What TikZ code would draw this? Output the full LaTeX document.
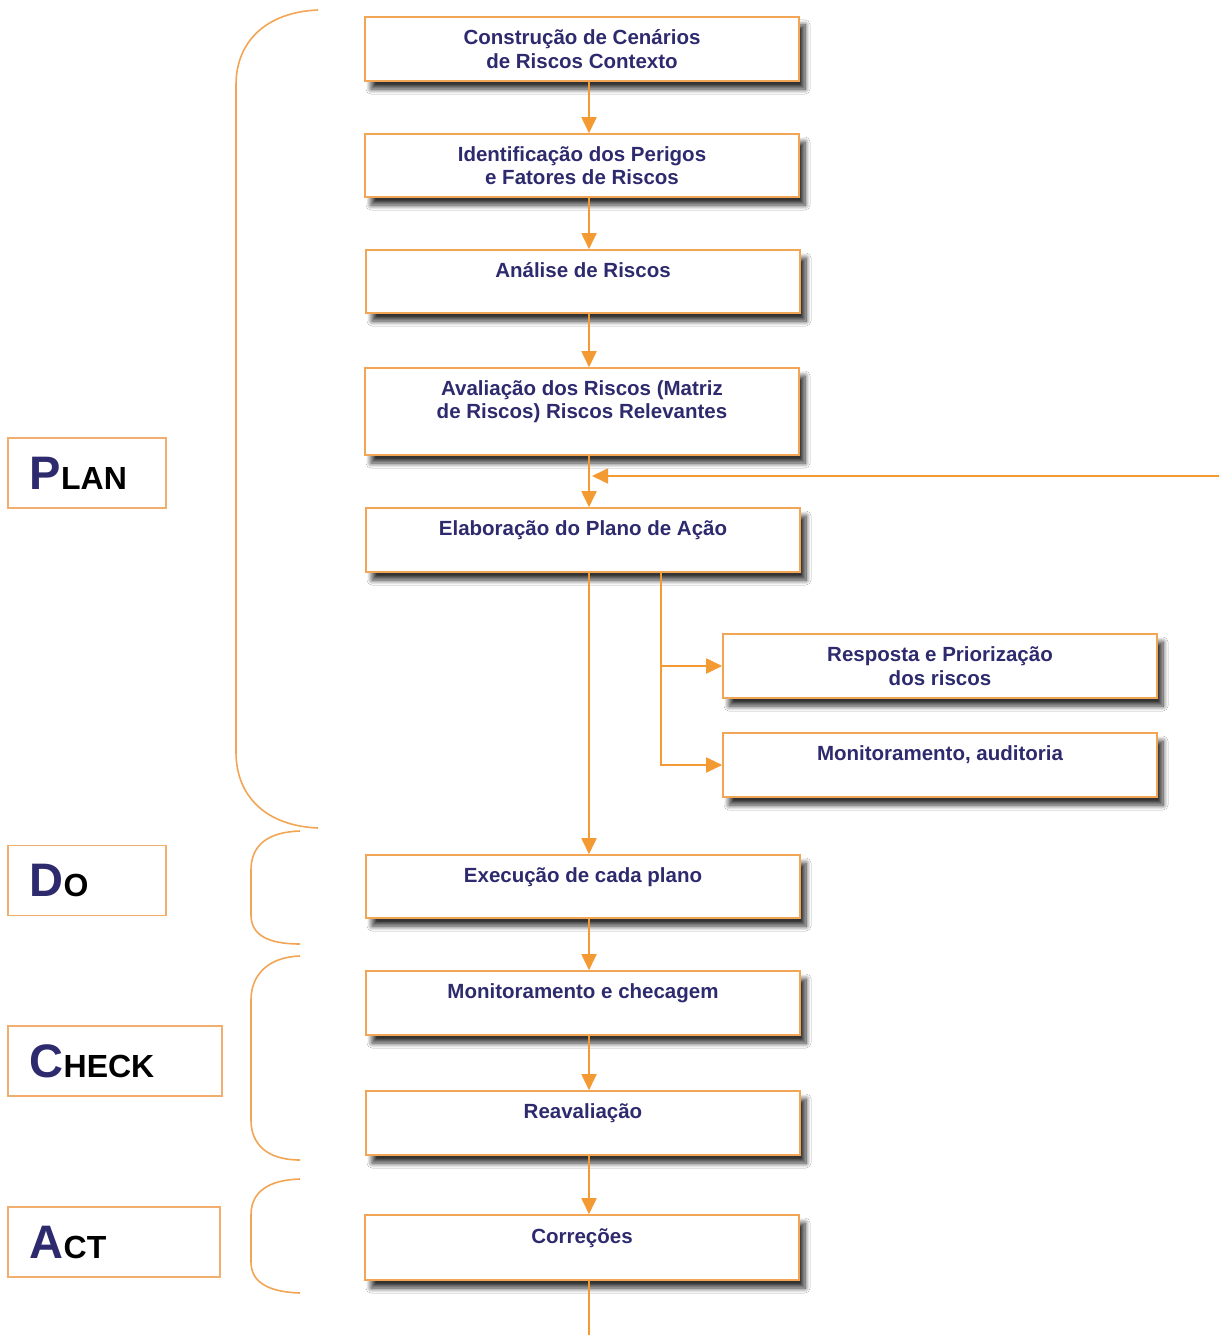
\documentclass[tikz,border=0pt]{standalone}
\usepackage{fontspec}
\setmainfont{Liberation Sans}
\usetikzlibrary{arrows.meta,shadows,shadows.blur}
\definecolor{boxline}{HTML}{F2A655}
\definecolor{arrcol}{HTML}{F39A33}
\definecolor{navy}{HTML}{2D2A6E}
\definecolor{labline}{HTML}{F2AE6E}
\tikzset{
  stepbox/.style={draw=boxline, line width=1.6pt, fill=white, rectangle,
    minimum width=434pt, minimum height=64pt, inner sep=0pt, align=center,
    text=navy, font=\fontsize{20.5}{23.5}\selectfont\bfseries,
    blur shadow={shadow xshift=6pt, shadow yshift=-8pt, shadow blur radius=5pt, shadow opacity=80, shadow blur steps=10}},
  labbox/.style={draw=labline, line width=1.5pt, fill=white, rectangle, anchor=west,
    minimum height=70pt, inner xsep=22pt, inner ysep=0pt, align=left},
  arr/.style={draw=arrcol, line width=1.8pt, -{Triangle[length=16pt,width=15pt]}},
  conn/.style={draw=arrcol, line width=1.8pt},
  brace/.style={draw=boxline, line width=1.6pt},
}
\newcommand{\pdcalab}[2]{{\fontsize{47}{47}\selectfont\bfseries\color{navy}#1}{\fontsize{32}{32}\selectfont\bfseries #2}}
\begin{document}
\begin{tikzpicture}[x=1pt,y=-1pt]
\useasboundingbox[fill=white] (0,0) rectangle (1219,1335);
% main boxes
\node[stepbox] (b1) at (582,49) {Construção de Cenários\\de Riscos Contexto};
\node[stepbox, minimum height=63pt] (b2) at (582,165.5) {Identificação dos Perigos\\e Fatores de Riscos};
\node[stepbox, minimum height=63pt] (b3) at (583,281.5) {Análise de Riscos\\\mbox{}};
\node[stepbox, minimum height=87pt] (b4) at (582,411.5) {Avaliação dos Riscos (Matriz\\de Riscos) Riscos Relevantes\\\mbox{}};
\node[stepbox] (b5) at (583,540) {Elaboração do Plano de Ação\\\mbox{}};
\node[stepbox] (r1) at (940,666) {Resposta e Priorização\\dos riscos};
\node[stepbox] (r2) at (940,765) {Monitoramento, auditoria\\\mbox{}};
\node[stepbox, minimum height=63pt] (b6) at (583,886.5) {Execução de cada plano\\\mbox{}};
\node[stepbox] (b7) at (583,1003) {Monitoramento e checagem\\\mbox{}};
\node[stepbox] (b8) at (583,1123) {Reavaliação\\\mbox{}};
\node[stepbox, minimum height=65pt] (b9) at (582,1247.5) {Correções\\\mbox{}};
% label boxes
\node[labbox, text width=114pt] (plan) at (7,473) {\pdcalab{P}{LAN}};
\node[labbox, text width=114pt] (do) at (7,880.5) {\pdcalab{D}{O}};
\node[labbox, text width=170pt] (check) at (7,1061) {\pdcalab{C}{HECK}};
\node[labbox, text width=168pt] (act) at (7,1242) {\pdcalab{A}{CT}};
% connector helpers
\coordinate (col) at (589,0);
\coordinate (br) at (661,0);
\coordinate (fb) at (1219,476);
\coordinate (bot) at (589,1335);
% arrows
\draw[arr] (b1.south -| col) -- (b2.north -| col);
\draw[arr] (b2.south -| col) -- (b3.north -| col);
\draw[arr] (b3.south -| col) -- (b4.north -| col);
\draw[arr] (b4.south -| col) -- (b5.north -| col);
\draw[arr] (fb) -- ([xshift=3pt]fb -| col);
\draw[arr] (b5.south -| col) -- (b6.north -| col);
\draw[arr] (b5.south -| br) |- (r2.west);
\draw[arr] (r1.west -| br) -- (r1.west);
\draw[arr] (b6.south -| col) -- (b7.north -| col);
\draw[arr] (b7.south -| col) -- (b8.north -| col);
\draw[arr] (b8.south -| col) -- (b9.north -| col);
\draw[conn] (b9.south -| col) -- (bot);
% braces
\draw[brace] (318,10) .. controls (268,12) and (236,40) .. (236,85) -- (236,752) .. controls (236,798) and (268,826) .. (318,828);
\draw[brace] (300,831) .. controls (268,832) and (251,845) .. (251,870) -- (251,915) .. controls (251,935) and (268,944) .. (300,944);
\draw[brace] (300,956) .. controls (268,957) and (251,975) .. (251,1000) -- (251,1120) .. controls (251,1145) and (268,1160) .. (300,1160);
\draw[brace] (300,1179) .. controls (268,1180) and (251,1192) .. (251,1215) -- (251,1262) .. controls (251,1282) and (268,1292) .. (300,1293);
\end{tikzpicture}
\end{document}
